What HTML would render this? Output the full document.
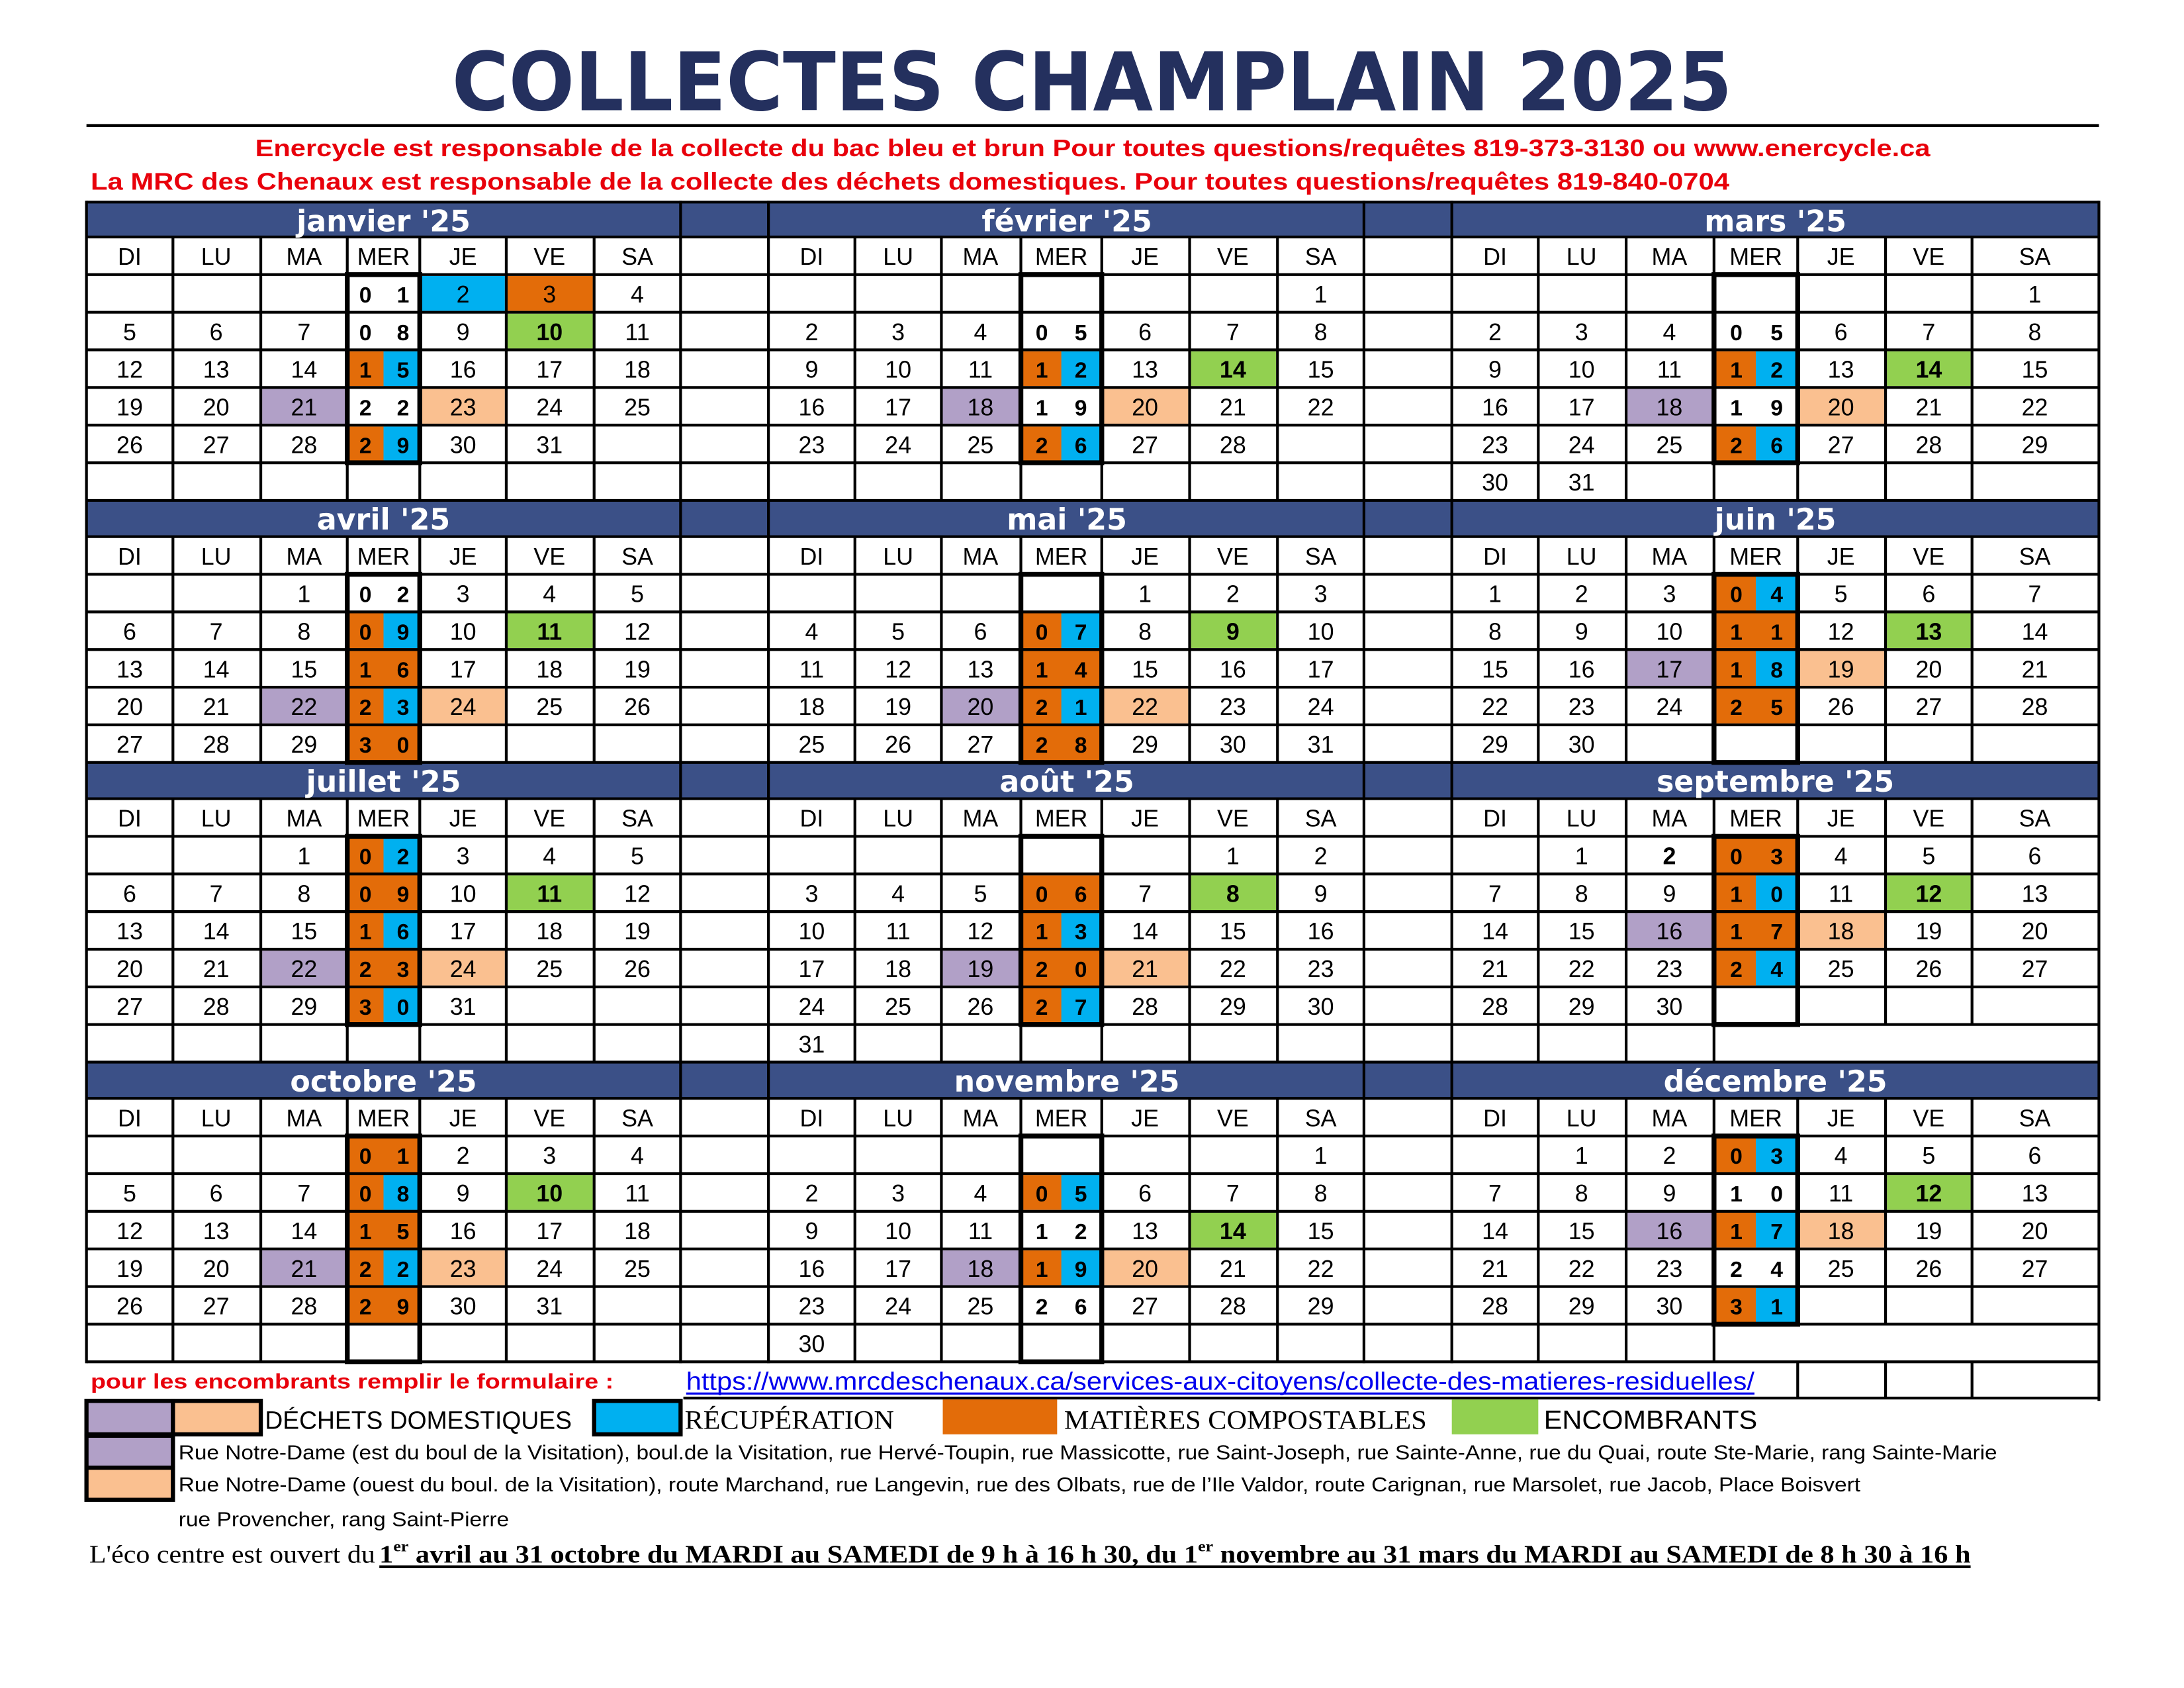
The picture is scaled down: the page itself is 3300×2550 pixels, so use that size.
<!DOCTYPE html>
<html><head><meta charset="utf-8"><style>
html,body{margin:0;padding:0;background:#fff}
svg{display:block}
.n{font-family:"Liberation Sans Narrow","Liberation Sans",sans-serif;font-size:17px;text-anchor:middle;fill:#000}
.b{font-family:"Liberation Sans",sans-serif;font-weight:bold;font-size:16px;text-anchor:middle;fill:#000}
.h{font-family:"DejaVu Sans","Liberation Sans",sans-serif;font-weight:bold;font-size:21px;text-anchor:middle;fill:#fff}
.g line{stroke:#000;stroke-width:2}
</style></head><body>
<svg width="3300" height="2550" viewBox="0 0 1566 1211" preserveAspectRatio="none" xmlns="http://www.w3.org/2000/svg">
<rect width="1566" height="1211" fill="#fff"/>
<text x="783" y="79" font-family="DejaVu Sans,sans-serif" font-weight="bold" font-size="58" fill="#24305e" text-anchor="middle" textLength="918" lengthAdjust="spacingAndGlyphs">COLLECTES CHAMPLAIN 2025</text>
<rect x="62" y="89" width="1443" height="2.2" fill="#000"/>
<text x="183" y="112" font-family="Liberation Sans,sans-serif" font-weight="bold" font-size="17" fill="#e8000b" textLength="1201" lengthAdjust="spacingAndGlyphs">Enercycle est responsable de la collecte du bac bleu et brun Pour toutes questions/requêtes 819-373-3130 ou www.enercycle.ca</text>
<text x="65" y="136" font-family="Liberation Sans,sans-serif" font-weight="bold" font-size="17" fill="#e8000b" textLength="1175" lengthAdjust="spacingAndGlyphs">La MRC des Chenaux est responsable de la collecte des déchets domestiques.  Pour toutes questions/requêtes 819-840-0704</text>

<g fill="#3b5087">
<rect x="62" y="145" width="1443" height="25"/><rect x="62" y="359" width="1443" height="26"/><rect x="62" y="547" width="1443" height="26"/><rect x="62" y="762" width="1443" height="26"/>
</g>
<g>
<rect x="302" y="198" width="60" height="25" fill="#00b0f0"/><rect x="364" y="198" width="61" height="25" fill="#e36c09"/>
<rect x="364" y="225" width="61" height="25" fill="#92d050"/>
<rect x="188" y="279" width="60" height="25" fill="#b1a0c7"/><rect x="302" y="279" width="60" height="25" fill="#fac090"/>
<rect x="854" y="252" width="61" height="25" fill="#92d050"/><rect x="676" y="279" width="55" height="25" fill="#b1a0c7"/><rect x="791" y="279" width="61" height="25" fill="#fac090"/>
<rect x="1353" y="252" width="60" height="25" fill="#92d050"/><rect x="1167" y="279" width="61" height="25" fill="#b1a0c7"/><rect x="1290" y="279" width="61" height="25" fill="#fac090"/>
<rect x="364" y="440" width="61" height="25" fill="#92d050"/><rect x="188" y="494" width="60" height="25" fill="#b1a0c7"/><rect x="302" y="494" width="60" height="25" fill="#fac090"/>
<rect x="854" y="440" width="61" height="25" fill="#92d050"/><rect x="676" y="494" width="55" height="25" fill="#b1a0c7"/><rect x="791" y="494" width="61" height="25" fill="#fac090"/>
<rect x="1353" y="440" width="60" height="25" fill="#92d050"/><rect x="1167" y="467" width="61" height="25" fill="#b1a0c7"/><rect x="1290" y="467" width="61" height="25" fill="#fac090"/>
<rect x="364" y="628" width="61" height="25" fill="#92d050"/><rect x="188" y="682" width="60" height="25" fill="#b1a0c7"/><rect x="302" y="682" width="60" height="25" fill="#fac090"/>
<rect x="854" y="628" width="61" height="25" fill="#92d050"/><rect x="676" y="682" width="55" height="25" fill="#b1a0c7"/><rect x="791" y="682" width="61" height="25" fill="#fac090"/>
<rect x="1353" y="628" width="60" height="25" fill="#92d050"/><rect x="1167" y="655" width="61" height="25" fill="#b1a0c7"/><rect x="1290" y="655" width="61" height="25" fill="#fac090"/>
<rect x="364" y="843" width="61" height="25" fill="#92d050"/><rect x="188" y="897" width="60" height="25" fill="#b1a0c7"/><rect x="302" y="897" width="60" height="25" fill="#fac090"/>
<rect x="854" y="870" width="61" height="25" fill="#92d050"/><rect x="676" y="897" width="55" height="25" fill="#b1a0c7"/><rect x="791" y="897" width="61" height="25" fill="#fac090"/>
<rect x="1353" y="843" width="60" height="25" fill="#92d050"/><rect x="1167" y="870" width="61" height="25" fill="#b1a0c7"/><rect x="1290" y="870" width="61" height="25" fill="#fac090"/>
</g>
<g fill="#e36c09">
<rect x="250" y="252" width="50" height="25"/><rect x="250" y="306" width="50" height="25"/>
<rect x="733" y="252" width="56" height="25"/><rect x="733" y="306" width="56" height="25"/>
<rect x="1230" y="252" width="58" height="25"/><rect x="1230" y="306" width="58" height="25"/>
<rect x="250" y="440" width="50" height="106"/>
<rect x="733" y="440" width="56" height="106"/>
<rect x="1230" y="413" width="58" height="106"/>
<rect x="250" y="601" width="50" height="133"/>
<rect x="733" y="628" width="56" height="106"/>
<rect x="1230" y="601" width="58" height="106"/>
<rect x="250" y="816" width="50" height="133"/>
<rect x="733" y="843" width="56" height="25"/><rect x="733" y="897" width="56" height="25"/>
<rect x="1230" y="816" width="58" height="25"/><rect x="1230" y="870" width="58" height="25"/><rect x="1230" y="924" width="58" height="25"/>
</g>
<g fill="#00b0f0">
<rect x="275" y="252" width="25" height="25"/><rect x="275" y="306" width="25" height="25"/>
<rect x="761" y="252" width="28" height="25"/><rect x="761" y="306" width="28" height="25"/>
<rect x="1259" y="252" width="29" height="25"/><rect x="1259" y="306" width="29" height="25"/>
<rect x="275" y="440" width="25" height="25"/><rect x="275" y="494" width="25" height="25"/>
<rect x="761" y="440" width="28" height="25"/><rect x="761" y="494" width="28" height="25"/>
<rect x="1259" y="413" width="29" height="25"/><rect x="1259" y="467" width="29" height="25"/>
<rect x="275" y="601" width="25" height="25"/><rect x="275" y="655" width="25" height="25"/><rect x="275" y="709" width="25" height="25"/>
<rect x="761" y="655" width="28" height="25"/><rect x="761" y="709" width="28" height="25"/>
<rect x="1259" y="628" width="29" height="25"/><rect x="1259" y="682" width="29" height="25"/>
<rect x="275" y="843" width="25" height="25"/><rect x="275" y="897" width="25" height="25"/>
<rect x="761" y="843" width="28" height="25"/><rect x="761" y="897" width="28" height="25"/>
<rect x="1259" y="816" width="29" height="25"/><rect x="1259" y="870" width="29" height="25"/><rect x="1259" y="924" width="29" height="25"/>
</g>

<g class="g">
<line x1="62" x2="1505" y1="145" y2="145"/><line x1="62" x2="1505" y1="170" y2="170"/><line x1="62" x2="1505" y1="197" y2="197"/><line x1="62" x2="1505" y1="224" y2="224"/><line x1="62" x2="1505" y1="251" y2="251"/><line x1="62" x2="1505" y1="278" y2="278"/><line x1="62" x2="1505" y1="305" y2="305"/><line x1="62" x2="1505" y1="332" y2="332"/><line x1="62" x2="1505" y1="359" y2="359"/>
<line x1="62" x2="1505" y1="385" y2="385"/><line x1="62" x2="1505" y1="412" y2="412"/><line x1="62" x2="1505" y1="439" y2="439"/><line x1="62" x2="1505" y1="466" y2="466"/><line x1="62" x2="1505" y1="493" y2="493"/><line x1="62" x2="1505" y1="520" y2="520"/><line x1="62" x2="1505" y1="547" y2="547"/>
<line x1="62" x2="1505" y1="573" y2="573"/><line x1="62" x2="1505" y1="600" y2="600"/><line x1="62" x2="1505" y1="627" y2="627"/><line x1="62" x2="1505" y1="654" y2="654"/><line x1="62" x2="1505" y1="681" y2="681"/><line x1="62" x2="1505" y1="708" y2="708"/><line x1="62" x2="1505" y1="735" y2="735"/><line x1="62" x2="1505" y1="762" y2="762"/>
<line x1="62" x2="1505" y1="788" y2="788"/><line x1="62" x2="1505" y1="815" y2="815"/><line x1="62" x2="1505" y1="842" y2="842"/><line x1="62" x2="1505" y1="869" y2="869"/><line x1="62" x2="1505" y1="896" y2="896"/><line x1="62" x2="1505" y1="923" y2="923"/><line x1="62" x2="1505" y1="950" y2="950"/><line x1="62" x2="1505" y1="977" y2="977"/>
<g style="stroke-width:3">
<line x1="62" x2="62" y1="144" y2="978"/><line x1="488" x2="488" y1="144" y2="978"/><line x1="551" x2="551" y1="144" y2="978"/><line x1="978" x2="978" y1="144" y2="978"/><line x1="1041" x2="1041" y1="144" y2="978"/><line x1="1505" x2="1505" y1="144" y2="1005"/>
<line x1="490" x2="1505" y1="1003" y2="1003"/>
</g>
<line x1="1289" x2="1289" y1="977" y2="1003"/><line x1="1352" x2="1352" y1="977" y2="1003"/><line x1="1414" x2="1414" y1="977" y2="1003"/>
</g>
<g stroke="#000" stroke-width="2">
<path fill="none" d="M124 170V359M187 170V359M249 170V359M301 170V359M363 170V359M426 170V359M613 170V359M675 170V359M732 170V359M790 170V359M853 170V359M916 170V359M1103 170V359M1166 170V359M1229 170V359M1289 170V359M1352 170V359M1414 170V359
M124 385V547M187 385V547M249 385V547M301 385V547M363 385V547M426 385V547M613 385V547M675 385V547M732 385V547M790 385V547M853 385V547M916 385V547M1103 385V547M1166 385V547M1229 385V547M1289 385V547M1352 385V547M1414 385V547
M124 573V762M187 573V762M249 573V762M301 573V762M363 573V762M426 573V762M613 573V762M675 573V762M732 573V762M790 573V762M853 573V762M916 573V762M1103 573V762M1166 573V762M1229 573V762M1289 573V735M1352 573V735M1414 573V735
M124 788V977M187 788V977M249 788V977M301 788V977M363 788V977M426 788V977M613 788V977M675 788V977M732 788V977M790 788V977M853 788V977M916 788V977M1103 788V977M1166 788V977M1229 788V977M1289 788V950M1352 788V950M1414 788V950"/>
</g>
<g fill="none" stroke="#000" stroke-width="3.5">
<rect x="249" y="197" width="52" height="135"/><rect x="732" y="197" width="58" height="135"/><rect x="1229" y="197" width="60" height="135"/>
<rect x="249" y="412" width="52" height="135"/><rect x="732" y="412" width="58" height="135"/><rect x="1229" y="412" width="60" height="135"/>
<rect x="249" y="600" width="52" height="135"/><rect x="732" y="600" width="58" height="135"/><rect x="1229" y="600" width="60" height="135"/>
<rect x="249" y="815" width="52" height="162"/><rect x="732" y="815" width="58" height="162"/><rect x="1229" y="815" width="60" height="135"/>
</g>

<text class="h" x="275" y="166">janvier '25</text><text class="h" x="765" y="166">février '25</text><text class="h" x="1273" y="166">mars '25</text>
<text class="h" x="275" y="380">avril '25</text><text class="h" x="765" y="380">mai '25</text><text class="h" x="1273" y="380">juin '25</text>
<text class="h" x="275" y="568">juillet '25</text><text class="h" x="765" y="568">août '25</text><text class="h" x="1273" y="568">septembre '25</text>
<text class="h" x="275" y="783">octobre '25</text><text class="h" x="765" y="783">novembre '25</text><text class="h" x="1273" y="783">décembre '25</text>

<g class="n">
<text x="93" y="190">DI</text><text x="155" y="190">LU</text><text x="218" y="190">MA</text><text x="275" y="190">MER</text><text x="332" y="190">JE</text><text x="394" y="190">VE</text><text x="457" y="190">SA</text>
<text x="582" y="190">DI</text><text x="644" y="190">LU</text><text x="703" y="190">MA</text><text x="761" y="190">MER</text><text x="821" y="190">JE</text><text x="884" y="190">VE</text><text x="947" y="190">SA</text>
<text x="1072" y="190">DI</text><text x="1134" y="190">LU</text><text x="1197" y="190">MA</text><text x="1259" y="190">MER</text><text x="1320" y="190">JE</text><text x="1383" y="190">VE</text><text x="1459" y="190">SA</text>
<text x="93" y="405">DI</text><text x="155" y="405">LU</text><text x="218" y="405">MA</text><text x="275" y="405">MER</text><text x="332" y="405">JE</text><text x="394" y="405">VE</text><text x="457" y="405">SA</text>
<text x="582" y="405">DI</text><text x="644" y="405">LU</text><text x="703" y="405">MA</text><text x="761" y="405">MER</text><text x="821" y="405">JE</text><text x="884" y="405">VE</text><text x="947" y="405">SA</text>
<text x="1072" y="405">DI</text><text x="1134" y="405">LU</text><text x="1197" y="405">MA</text><text x="1259" y="405">MER</text><text x="1320" y="405">JE</text><text x="1383" y="405">VE</text><text x="1459" y="405">SA</text>
<text x="93" y="593">DI</text><text x="155" y="593">LU</text><text x="218" y="593">MA</text><text x="275" y="593">MER</text><text x="332" y="593">JE</text><text x="394" y="593">VE</text><text x="457" y="593">SA</text>
<text x="582" y="593">DI</text><text x="644" y="593">LU</text><text x="703" y="593">MA</text><text x="761" y="593">MER</text><text x="821" y="593">JE</text><text x="884" y="593">VE</text><text x="947" y="593">SA</text>
<text x="1072" y="593">DI</text><text x="1134" y="593">LU</text><text x="1197" y="593">MA</text><text x="1259" y="593">MER</text><text x="1320" y="593">JE</text><text x="1383" y="593">VE</text><text x="1459" y="593">SA</text>
<text x="93" y="808">DI</text><text x="155" y="808">LU</text><text x="218" y="808">MA</text><text x="275" y="808">MER</text><text x="332" y="808">JE</text><text x="394" y="808">VE</text><text x="457" y="808">SA</text>
<text x="582" y="808">DI</text><text x="644" y="808">LU</text><text x="703" y="808">MA</text><text x="761" y="808">MER</text><text x="821" y="808">JE</text><text x="884" y="808">VE</text><text x="947" y="808">SA</text>
<text x="1072" y="808">DI</text><text x="1134" y="808">LU</text><text x="1197" y="808">MA</text><text x="1259" y="808">MER</text><text x="1320" y="808">JE</text><text x="1383" y="808">VE</text><text x="1459" y="808">SA</text>
</g>

<g class="n">
<text x="332" y="217">2</text><text x="394" y="217">3</text><text x="457" y="217">4</text>
<text x="93" y="244">5</text><text x="155" y="244">6</text><text x="218" y="244">7</text><text x="332" y="244">9</text><text x="394" y="244" font-weight="bold">10</text><text x="457" y="244">11</text>
<text x="93" y="271">12</text><text x="155" y="271">13</text><text x="218" y="271">14</text><text x="332" y="271">16</text><text x="394" y="271">17</text><text x="457" y="271">18</text>
<text x="93" y="298">19</text><text x="155" y="298">20</text><text x="218" y="298">21</text><text x="332" y="298">23</text><text x="394" y="298">24</text><text x="457" y="298">25</text>
<text x="93" y="325">26</text><text x="155" y="325">27</text><text x="218" y="325">28</text><text x="332" y="325">30</text><text x="394" y="325">31</text>
<text x="947" y="217">1</text>
<text x="582" y="244">2</text><text x="644" y="244">3</text><text x="703" y="244">4</text><text x="821" y="244">6</text><text x="884" y="244">7</text><text x="947" y="244">8</text>
<text x="582" y="271">9</text><text x="644" y="271">10</text><text x="703" y="271">11</text><text x="821" y="271">13</text><text x="884" y="271" font-weight="bold">14</text><text x="947" y="271">15</text>
<text x="582" y="298">16</text><text x="644" y="298">17</text><text x="703" y="298">18</text><text x="821" y="298">20</text><text x="884" y="298">21</text><text x="947" y="298">22</text>
<text x="582" y="325">23</text><text x="644" y="325">24</text><text x="703" y="325">25</text><text x="821" y="325">27</text><text x="884" y="325">28</text>
<text x="1459" y="217">1</text>
<text x="1072" y="244">2</text><text x="1134" y="244">3</text><text x="1197" y="244">4</text><text x="1320" y="244">6</text><text x="1383" y="244">7</text><text x="1459" y="244">8</text>
<text x="1072" y="271">9</text><text x="1134" y="271">10</text><text x="1197" y="271">11</text><text x="1320" y="271">13</text><text x="1383" y="271" font-weight="bold">14</text><text x="1459" y="271">15</text>
<text x="1072" y="298">16</text><text x="1134" y="298">17</text><text x="1197" y="298">18</text><text x="1320" y="298">20</text><text x="1383" y="298">21</text><text x="1459" y="298">22</text>
<text x="1072" y="325">23</text><text x="1134" y="325">24</text><text x="1197" y="325">25</text><text x="1320" y="325">27</text><text x="1383" y="325">28</text><text x="1459" y="325">29</text>
<text x="1072" y="352">30</text><text x="1134" y="352">31</text>
<text x="218" y="432">1</text><text x="332" y="432">3</text><text x="394" y="432">4</text><text x="457" y="432">5</text>
<text x="93" y="459">6</text><text x="155" y="459">7</text><text x="218" y="459">8</text><text x="332" y="459">10</text><text x="394" y="459" font-weight="bold">11</text><text x="457" y="459">12</text>
<text x="93" y="486">13</text><text x="155" y="486">14</text><text x="218" y="486">15</text><text x="332" y="486">17</text><text x="394" y="486">18</text><text x="457" y="486">19</text>
<text x="93" y="513">20</text><text x="155" y="513">21</text><text x="218" y="513">22</text><text x="332" y="513">24</text><text x="394" y="513">25</text><text x="457" y="513">26</text>
<text x="93" y="540">27</text><text x="155" y="540">28</text><text x="218" y="540">29</text>
<text x="821" y="432">1</text><text x="884" y="432">2</text><text x="947" y="432">3</text>
<text x="582" y="459">4</text><text x="644" y="459">5</text><text x="703" y="459">6</text><text x="821" y="459">8</text><text x="884" y="459" font-weight="bold">9</text><text x="947" y="459">10</text>
<text x="582" y="486">11</text><text x="644" y="486">12</text><text x="703" y="486">13</text><text x="821" y="486">15</text><text x="884" y="486">16</text><text x="947" y="486">17</text>
<text x="582" y="513">18</text><text x="644" y="513">19</text><text x="703" y="513">20</text><text x="821" y="513">22</text><text x="884" y="513">23</text><text x="947" y="513">24</text>
<text x="582" y="540">25</text><text x="644" y="540">26</text><text x="703" y="540">27</text><text x="821" y="540">29</text><text x="884" y="540">30</text><text x="947" y="540">31</text>
<text x="1072" y="432">1</text><text x="1134" y="432">2</text><text x="1197" y="432">3</text><text x="1320" y="432">5</text><text x="1383" y="432">6</text><text x="1459" y="432">7</text>
<text x="1072" y="459">8</text><text x="1134" y="459">9</text><text x="1197" y="459">10</text><text x="1320" y="459">12</text><text x="1383" y="459" font-weight="bold">13</text><text x="1459" y="459">14</text>
<text x="1072" y="486">15</text><text x="1134" y="486">16</text><text x="1197" y="486">17</text><text x="1320" y="486">19</text><text x="1383" y="486">20</text><text x="1459" y="486">21</text>
<text x="1072" y="513">22</text><text x="1134" y="513">23</text><text x="1197" y="513">24</text><text x="1320" y="513">26</text><text x="1383" y="513">27</text><text x="1459" y="513">28</text>
<text x="1072" y="540">29</text><text x="1134" y="540">30</text>
<text x="218" y="620">1</text><text x="332" y="620">3</text><text x="394" y="620">4</text><text x="457" y="620">5</text>
<text x="93" y="647">6</text><text x="155" y="647">7</text><text x="218" y="647">8</text><text x="332" y="647">10</text><text x="394" y="647" font-weight="bold">11</text><text x="457" y="647">12</text>
<text x="93" y="674">13</text><text x="155" y="674">14</text><text x="218" y="674">15</text><text x="332" y="674">17</text><text x="394" y="674">18</text><text x="457" y="674">19</text>
<text x="93" y="701">20</text><text x="155" y="701">21</text><text x="218" y="701">22</text><text x="332" y="701">24</text><text x="394" y="701">25</text><text x="457" y="701">26</text>
<text x="93" y="728">27</text><text x="155" y="728">28</text><text x="218" y="728">29</text><text x="332" y="728">31</text>
<text x="884" y="620">1</text><text x="947" y="620">2</text>
<text x="582" y="647">3</text><text x="644" y="647">4</text><text x="703" y="647">5</text><text x="821" y="647">7</text><text x="884" y="647" font-weight="bold">8</text><text x="947" y="647">9</text>
<text x="582" y="674">10</text><text x="644" y="674">11</text><text x="703" y="674">12</text><text x="821" y="674">14</text><text x="884" y="674">15</text><text x="947" y="674">16</text>
<text x="582" y="701">17</text><text x="644" y="701">18</text><text x="703" y="701">19</text><text x="821" y="701">21</text><text x="884" y="701">22</text><text x="947" y="701">23</text>
<text x="582" y="728">24</text><text x="644" y="728">25</text><text x="703" y="728">26</text><text x="821" y="728">28</text><text x="884" y="728">29</text><text x="947" y="728">30</text>
<text x="582" y="755">31</text>
<text x="1134" y="620">1</text><text x="1197" y="620" font-weight="bold">2</text><text x="1320" y="620">4</text><text x="1383" y="620">5</text><text x="1459" y="620">6</text>
<text x="1072" y="647">7</text><text x="1134" y="647">8</text><text x="1197" y="647">9</text><text x="1320" y="647">11</text><text x="1383" y="647" font-weight="bold">12</text><text x="1459" y="647">13</text>
<text x="1072" y="674">14</text><text x="1134" y="674">15</text><text x="1197" y="674">16</text><text x="1320" y="674">18</text><text x="1383" y="674">19</text><text x="1459" y="674">20</text>
<text x="1072" y="701">21</text><text x="1134" y="701">22</text><text x="1197" y="701">23</text><text x="1320" y="701">25</text><text x="1383" y="701">26</text><text x="1459" y="701">27</text>
<text x="1072" y="728">28</text><text x="1134" y="728">29</text><text x="1197" y="728">30</text>
<text x="332" y="835">2</text><text x="394" y="835">3</text><text x="457" y="835">4</text>
<text x="93" y="862">5</text><text x="155" y="862">6</text><text x="218" y="862">7</text><text x="332" y="862">9</text><text x="394" y="862" font-weight="bold">10</text><text x="457" y="862">11</text>
<text x="93" y="889">12</text><text x="155" y="889">13</text><text x="218" y="889">14</text><text x="332" y="889">16</text><text x="394" y="889">17</text><text x="457" y="889">18</text>
<text x="93" y="916">19</text><text x="155" y="916">20</text><text x="218" y="916">21</text><text x="332" y="916">23</text><text x="394" y="916">24</text><text x="457" y="916">25</text>
<text x="93" y="943">26</text><text x="155" y="943">27</text><text x="218" y="943">28</text><text x="332" y="943">30</text><text x="394" y="943">31</text>
<text x="947" y="835">1</text>
<text x="582" y="862">2</text><text x="644" y="862">3</text><text x="703" y="862">4</text><text x="821" y="862">6</text><text x="884" y="862">7</text><text x="947" y="862">8</text>
<text x="582" y="889">9</text><text x="644" y="889">10</text><text x="703" y="889">11</text><text x="821" y="889">13</text><text x="884" y="889" font-weight="bold">14</text><text x="947" y="889">15</text>
<text x="582" y="916">16</text><text x="644" y="916">17</text><text x="703" y="916">18</text><text x="821" y="916">20</text><text x="884" y="916">21</text><text x="947" y="916">22</text>
<text x="582" y="943">23</text><text x="644" y="943">24</text><text x="703" y="943">25</text><text x="821" y="943">27</text><text x="884" y="943">28</text><text x="947" y="943">29</text>
<text x="582" y="970">30</text>
<text x="1134" y="835">1</text><text x="1197" y="835">2</text><text x="1320" y="835">4</text><text x="1383" y="835">5</text><text x="1459" y="835">6</text>
<text x="1072" y="862">7</text><text x="1134" y="862">8</text><text x="1197" y="862">9</text><text x="1320" y="862">11</text><text x="1383" y="862" font-weight="bold">12</text><text x="1459" y="862">13</text>
<text x="1072" y="889">14</text><text x="1134" y="889">15</text><text x="1197" y="889">16</text><text x="1320" y="889">18</text><text x="1383" y="889">19</text><text x="1459" y="889">20</text>
<text x="1072" y="916">21</text><text x="1134" y="916">22</text><text x="1197" y="916">23</text><text x="1320" y="916">25</text><text x="1383" y="916">26</text><text x="1459" y="916">27</text>
<text x="1072" y="943">28</text><text x="1134" y="943">29</text><text x="1197" y="943">30</text>
</g>

<g class="b">
<text x="262" y="217">0</text><text x="289" y="217">1</text><text x="262" y="244">0</text><text x="289" y="244">8</text><text x="262" y="271">1</text><text x="289" y="271">5</text><text x="262" y="298">2</text><text x="289" y="298">2</text><text x="262" y="325">2</text><text x="289" y="325">9</text>
<text x="747" y="244">0</text><text x="775" y="244">5</text><text x="747" y="271">1</text><text x="775" y="271">2</text><text x="747" y="298">1</text><text x="775" y="298">9</text><text x="747" y="325">2</text><text x="775" y="325">6</text>
<text x="1245" y="244">0</text><text x="1274" y="244">5</text><text x="1245" y="271">1</text><text x="1274" y="271">2</text><text x="1245" y="298">1</text><text x="1274" y="298">9</text><text x="1245" y="325">2</text><text x="1274" y="325">6</text>
<text x="262" y="432">0</text><text x="289" y="432">2</text><text x="262" y="459">0</text><text x="289" y="459">9</text><text x="262" y="486">1</text><text x="289" y="486">6</text><text x="262" y="513">2</text><text x="289" y="513">3</text><text x="262" y="540">3</text><text x="289" y="540">0</text>
<text x="747" y="459">0</text><text x="775" y="459">7</text><text x="747" y="486">1</text><text x="775" y="486">4</text><text x="747" y="513">2</text><text x="775" y="513">1</text><text x="747" y="540">2</text><text x="775" y="540">8</text>
<text x="1245" y="432">0</text><text x="1274" y="432">4</text><text x="1245" y="459">1</text><text x="1274" y="459">1</text><text x="1245" y="486">1</text><text x="1274" y="486">8</text><text x="1245" y="513">2</text><text x="1274" y="513">5</text>
<text x="262" y="620">0</text><text x="289" y="620">2</text><text x="262" y="647">0</text><text x="289" y="647">9</text><text x="262" y="674">1</text><text x="289" y="674">6</text><text x="262" y="701">2</text><text x="289" y="701">3</text><text x="262" y="728">3</text><text x="289" y="728">0</text>
<text x="747" y="647">0</text><text x="775" y="647">6</text><text x="747" y="674">1</text><text x="775" y="674">3</text><text x="747" y="701">2</text><text x="775" y="701">0</text><text x="747" y="728">2</text><text x="775" y="728">7</text>
<text x="1245" y="620">0</text><text x="1274" y="620">3</text><text x="1245" y="647">1</text><text x="1274" y="647">0</text><text x="1245" y="674">1</text><text x="1274" y="674">7</text><text x="1245" y="701">2</text><text x="1274" y="701">4</text>
<text x="262" y="835">0</text><text x="289" y="835">1</text><text x="262" y="862">0</text><text x="289" y="862">8</text><text x="262" y="889">1</text><text x="289" y="889">5</text><text x="262" y="916">2</text><text x="289" y="916">2</text><text x="262" y="943">2</text><text x="289" y="943">9</text>
<text x="747" y="862">0</text><text x="775" y="862">5</text><text x="747" y="889">1</text><text x="775" y="889">2</text><text x="747" y="916">1</text><text x="775" y="916">9</text><text x="747" y="943">2</text><text x="775" y="943">6</text>
<text x="1245" y="835">0</text><text x="1274" y="835">3</text><text x="1245" y="862">1</text><text x="1274" y="862">0</text><text x="1245" y="889">1</text><text x="1274" y="889">7</text><text x="1245" y="916">2</text><text x="1274" y="916">4</text><text x="1245" y="943">3</text><text x="1274" y="943">1</text>
</g>

<text x="65" y="996" font-family="Liberation Sans,sans-serif" font-weight="bold" font-size="15" fill="#e8000b" textLength="375" lengthAdjust="spacingAndGlyphs">pour les encombrants remplir le formulaire :</text>
<text x="492" y="997" font-family="Liberation Sans,sans-serif" font-size="18" fill="#0000ee" textLength="766" lengthAdjust="spacingAndGlyphs">https://www.mrcdeschenaux.ca/services-aux-citoyens/collecte-des-matieres-residuelles/</text>
<rect x="492" y="999" width="766" height="1.5" fill="#0000ee"/>

<g stroke="#000" stroke-width="3">
<rect x="62" y="1005" width="62" height="24" fill="#b1a0c7"/><rect x="124" y="1005" width="63" height="24" fill="#fac090"/>
<rect x="426" y="1005" width="62" height="24" fill="#00b0f0"/>
<rect x="62" y="1030" width="62" height="23" fill="#b1a0c7"/><rect x="62" y="1053" width="62" height="23" fill="#fac090"/>
</g>
<rect x="676" y="1004" width="82" height="25" fill="#e36c09"/>
<rect x="1041" y="1004" width="62" height="25" fill="#92d050"/>
<text x="190" y="1025" font-family="Liberation Sans,sans-serif" font-size="18" textLength="220" lengthAdjust="spacingAndGlyphs">DÉCHETS DOMESTIQUES</text>
<text x="491" y="1025" font-family="Liberation Serif,serif" font-size="19" textLength="150" lengthAdjust="spacingAndGlyphs">RÉCUPÉRATION</text>
<text x="763" y="1025" font-family="Liberation Serif,serif" font-size="19" textLength="260" lengthAdjust="spacingAndGlyphs">MATIÈRES COMPOSTABLES</text>
<text x="1107" y="1025" font-family="Liberation Sans,sans-serif" font-size="19" textLength="153" lengthAdjust="spacingAndGlyphs">ENCOMBRANTS</text>
<text x="128" y="1047" font-family="Liberation Sans,sans-serif" font-size="14.5" textLength="1304" lengthAdjust="spacingAndGlyphs">Rue Notre-Dame (est du boul de la Visitation), boul.de la Visitation, rue Hervé-Toupin, rue Massicotte, rue Saint-Joseph, rue Sainte-Anne, rue du Quai, route Ste-Marie, rang Sainte-Marie</text>
<text x="128" y="1070" font-family="Liberation Sans,sans-serif" font-size="14.5" textLength="1206" lengthAdjust="spacingAndGlyphs">Rue Notre-Dame (ouest du boul. de la Visitation), route Marchand, rue Langevin, rue des Olbats, rue de l’Ile Valdor, route Carignan, rue Marsolet, rue Jacob, Place Boisvert</text>
<text x="128" y="1095" font-family="Liberation Sans,sans-serif" font-size="14.5" textLength="237" lengthAdjust="spacingAndGlyphs">rue Provencher, rang Saint-Pierre</text>
<text x="64" y="1121" font-family="Liberation Serif,serif" font-size="18" textLength="205" lengthAdjust="spacingAndGlyphs">L'éco centre est ouvert du</text>
<text x="272" y="1121" font-family="Liberation Serif,serif" font-weight="bold" font-size="18" textLength="1141" lengthAdjust="spacingAndGlyphs">1<tspan font-size="11" dy="-8">er</tspan><tspan dy="8"> avril au 31 octobre du MARDI au SAMEDI de 9 h à 16 h 30, du 1</tspan><tspan font-size="11" dy="-8">er</tspan><tspan dy="8"> novembre  au 31 mars du MARDI au SAMEDI de 8 h 30  à 16 h </tspan></text>
<rect x="272" y="1123" width="1141" height="2" fill="#000"/>
</svg>
</body></html>
